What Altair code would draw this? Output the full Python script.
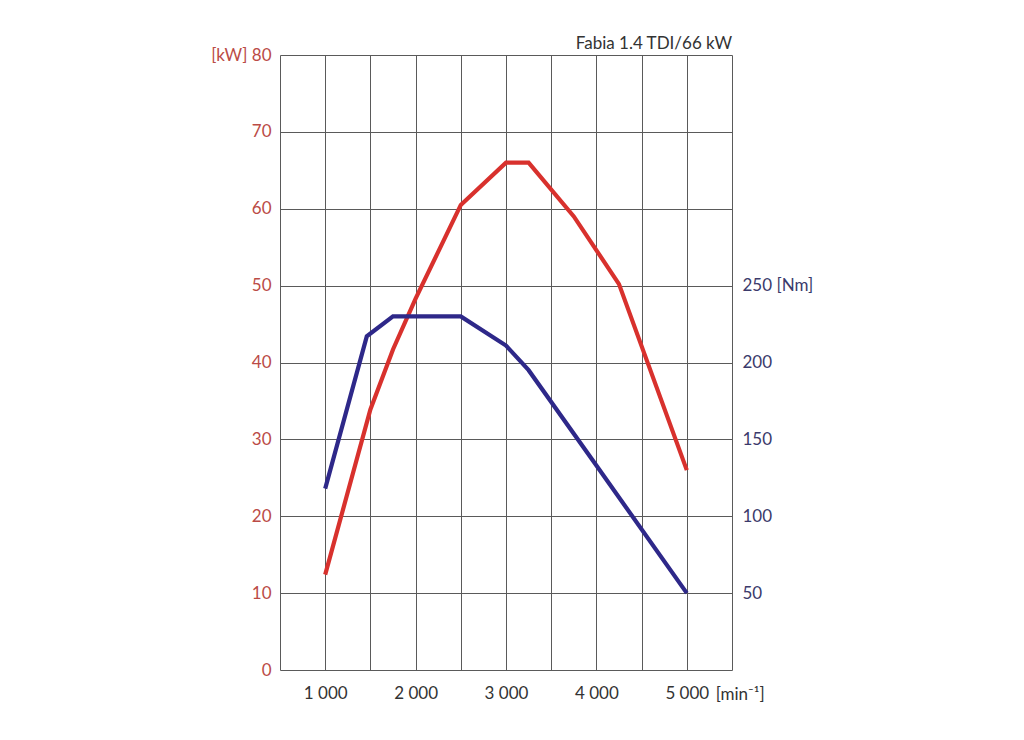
import altair as alt
import pandas as pd

# Power curve (kW)
rpm_power = [1000, 1500, 1750, 2000, 2500, 3000, 3250, 3750, 4250, 5000]
power_kw = [12.4, 33.9, 41.7, 48.3, 60.5, 66.0, 66.0, 59.0, 50.2, 26.0]

# Torque curve (Nm)
rpm_torque = [1000, 1460, 1750, 2500, 3000, 3250, 4000, 5000]
torque_nm = [118, 217, 230, 230, 211, 195, 133, 50]

x_grid = [500, 1000, 1500, 2000, 2500, 3000, 3500, 4000, 4500, 5000, 5500]
kw_ticks = [0, 10, 20, 30, 40, 50, 60, 70, 80]
nm_ticks = [50, 100, 150, 200, 250]

FONT = "Lato"
RED = "#d8312d"
BLUE = "#2e2889"
GRID = "#5a5a5a"

power_df = pd.DataFrame({"rpm": rpm_power, "kw": power_kw})
torque_df = pd.DataFrame({"rpm": rpm_torque, "nm": torque_nm})
unit_df = pd.DataFrame({"rpm": [5000], "t": ["[min⁻¹]"]})

W, H = 452, 615

xscale = alt.Scale(domain=[500, 5500], nice=False, zero=False)
xaxis = alt.Axis(
    values=x_grid, grid=True, gridColor=GRID, gridWidth=1, ticks=False, domain=False,
    labelExpr="datum.value % 1000 == 0 && datum.value <= 5000 ? floor(datum.value/1000) + ' 000' : ''",
    labelFontSize=17, labelColor="#333333", labelFont=FONT, labelPadding=15, title=None,
)

power = alt.Chart(power_df).mark_line(color=RED, strokeWidth=4.2).encode(
    x=alt.X("rpm:Q", scale=xscale, axis=xaxis),
    y=alt.Y("kw:Q", scale=alt.Scale(domain=[0, 80], nice=False),
            axis=alt.Axis(values=kw_ticks, grid=True, gridColor=GRID, gridWidth=1,
                          ticks=False, domain=False, orient="left",
                          labelExpr="datum.value == 80 ? '[kW] 80' : datum.label",
                          labelFontSize=17, labelColor="#bb4b46", labelFont=FONT,
                          labelPadding=9, title=None)),
)

torque = alt.Chart(torque_df).mark_line(color=BLUE, strokeWidth=4.2).encode(
    x=alt.X("rpm:Q", scale=xscale),
    y=alt.Y("nm:Q", scale=alt.Scale(domain=[0, 400], nice=False),
            axis=alt.Axis(values=nm_ticks, grid=False, ticks=False, domain=False,
                          orient="right",
                          labelExpr="datum.value == 250 ? '250 [Nm]' : datum.label",
                          labelFontSize=17, labelColor="#3b3a6b", labelFont=FONT,
                          labelPadding=10, title=None)),
)

unit = alt.Chart(unit_df).mark_text(
    align="left", baseline="middle", dx=29, fontSize=17, font=FONT, color="#333333"
).encode(
    x=alt.X("rpm:Q", scale=xscale),
    y=alt.value(H + 25),
    text="t:N",
)

chart = alt.layer(power, torque, unit).resolve_scale(y="independent").properties(
    width=W, height=H,
    title=alt.TitleParams("Fabia 1.4 TDI/66 kW", anchor="end", frame="group", fontSize=17,
                          fontWeight="normal", color="#333333", font=FONT, offset=-7),
    autosize=alt.AutoSizeParams(type="none"),
    padding={"left": 272, "top": 47, "right": 284, "bottom": 62},
).configure_view(strokeWidth=0)

chart.save("out.html", embed_options={"renderer": "svg", "actions": False})
